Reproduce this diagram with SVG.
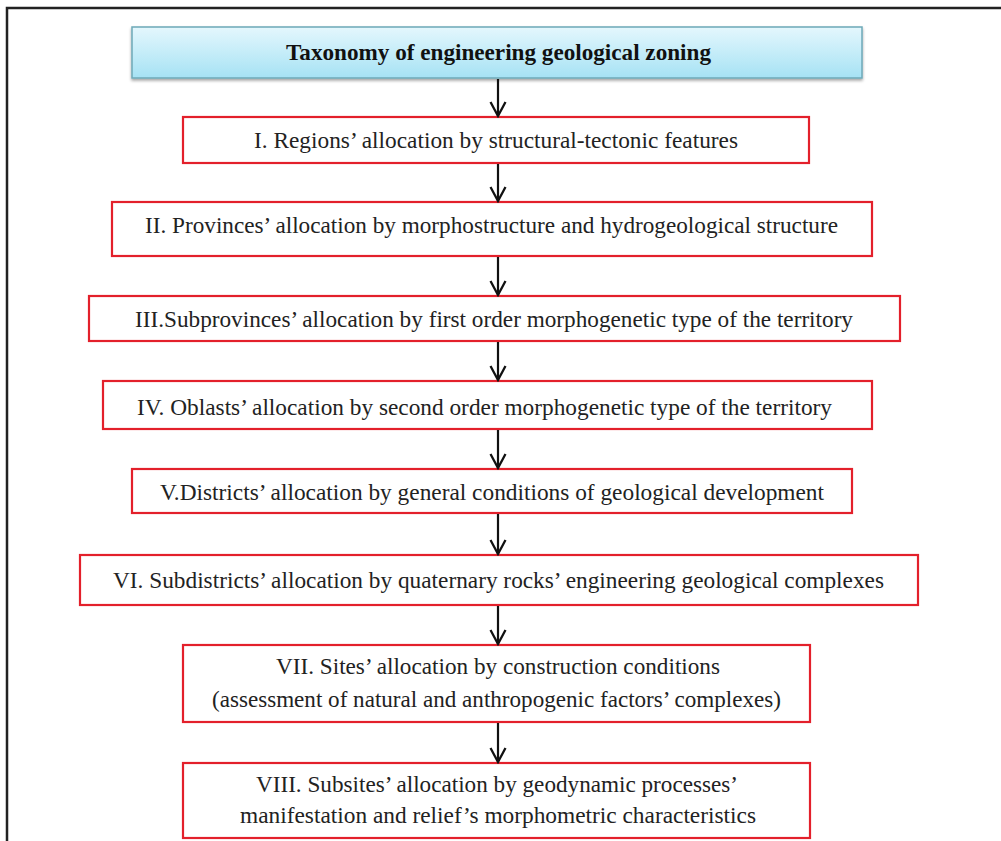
<svg xmlns="http://www.w3.org/2000/svg" width="1001" height="841" viewBox="0 0 1001 841">
  <defs>
    <linearGradient id="blueFill" x1="0" y1="0" x2="0" y2="1">
      <stop offset="0" stop-color="#e4f7fd"/>
      <stop offset="1" stop-color="#a6e2f4"/>
    </linearGradient>
    <filter id="shadow" x="-5%" y="-20%" width="110%" height="150%">
      <feDropShadow dx="0" dy="2" stdDeviation="1.5" flood-color="#000" flood-opacity="0.35"/>
    </filter>
    <marker id="arrow" markerWidth="18" markerHeight="18" refX="16" refY="9" orient="auto" markerUnits="userSpaceOnUse" viewBox="0 0 18 18">
      <path d="M2,1.5 L16,9 L2,16.5" fill="none" stroke="#111" stroke-width="2.3"/>
    </marker>
  </defs>
  <style>
    .box { fill: #ffffff; stroke: #e3202b; stroke-width: 2.2; }
    .lbl { font-family: "Liberation Serif", "Times New Roman", serif; font-size: 22.5px; fill: #222; text-anchor: middle; }
    .title { font-family: "Liberation Serif", "Times New Roman", serif; font-size: 24px; font-weight: bold; fill: #111; text-anchor: middle; }
    .conn line { stroke: #111; stroke-width: 2.2; marker-end: url(#arrow); }
  </style>
  <rect x="0" y="0" width="1001" height="841" fill="#ffffff"/>
  <path d="M7,841 L7,8 L1001,8" fill="none" stroke="#222" stroke-width="2.5"/>

  <g id="title">
    <rect x="132" y="27" width="730" height="51" fill="url(#blueFill)" stroke="#6ea9b8" stroke-width="1.5" filter="url(#shadow)"/>
    <text class="title" x="498.5" y="60" textLength="425" lengthAdjust="spacingAndGlyphs">Taxonomy of engineering geological zoning</text>
  </g>
  <g id="n1">
    <rect class="box" x="183" y="117" width="626" height="46"/>
    <text class="lbl" x="496" y="148" textLength="484" lengthAdjust="spacingAndGlyphs">I. Regions’ allocation by structural-tectonic features</text>
  </g>
  <g id="n2">
    <rect class="box" x="112" y="202" width="760" height="54"/>
    <text class="lbl" x="491.5" y="233" textLength="693" lengthAdjust="spacingAndGlyphs">II. Provinces’ allocation by morphostructure and hydrogeological structure</text>
  </g>
  <g id="n3">
    <rect class="box" x="89" y="296" width="811" height="45"/>
    <text class="lbl" x="494" y="327" textLength="718" lengthAdjust="spacingAndGlyphs">III.Subprovinces’ allocation by first order morphogenetic type of the territory</text>
  </g>
  <g id="n4">
    <rect class="box" x="103" y="381" width="769" height="48"/>
    <text class="lbl" x="484.5" y="415" textLength="695" lengthAdjust="spacingAndGlyphs">IV. Oblasts’ allocation by second order morphogenetic type of the territory</text>
  </g>
  <g id="n5">
    <rect class="box" x="132" y="469" width="720" height="44"/>
    <text class="lbl" x="492" y="500" textLength="664" lengthAdjust="spacingAndGlyphs">V.Districts’ allocation by general conditions of geological development</text>
  </g>
  <g id="n6">
    <rect class="box" x="80" y="555" width="838" height="50"/>
    <text class="lbl" x="498.5" y="588" textLength="771" lengthAdjust="spacingAndGlyphs">VI. Subdistricts’ allocation by quaternary rocks’ engineering geological complexes</text>
  </g>
  <g id="n7">
    <rect class="box" x="183" y="645" width="627" height="77"/>
    <text class="lbl" x="498" y="674" textLength="444" lengthAdjust="spacingAndGlyphs">VII. Sites’ allocation by construction conditions</text>
    <text class="lbl" x="496.5" y="707" textLength="569" lengthAdjust="spacingAndGlyphs">(assessment of natural and anthropogenic factors’ complexes)</text>
  </g>
  <g id="n8">
    <rect class="box" x="183" y="763" width="627" height="75"/>
    <text class="lbl" x="497" y="792" textLength="482" lengthAdjust="spacingAndGlyphs">VIII. Subsites’ allocation by geodynamic processes’</text>
    <text class="lbl" x="498" y="823" textLength="516" lengthAdjust="spacingAndGlyphs">manifestation and relief’s morphometric characteristics</text>
  </g>

  <g id="connectors" class="conn">
    <line x1="498" y1="79" x2="498" y2="116"/>
    <line x1="498" y1="164" x2="498" y2="201"/>
    <line x1="498" y1="257" x2="498" y2="295"/>
    <line x1="498" y1="342" x2="498" y2="380"/>
    <line x1="498" y1="430" x2="498" y2="468"/>
    <line x1="498" y1="514" x2="498" y2="554"/>
    <line x1="498" y1="606" x2="498" y2="644"/>
    <line x1="498" y1="723" x2="498" y2="762"/>
  </g>
</svg>
